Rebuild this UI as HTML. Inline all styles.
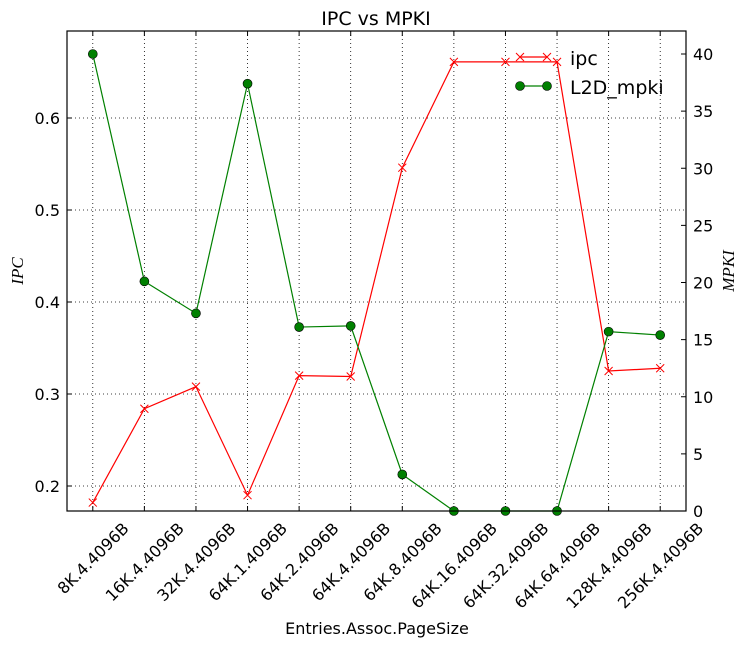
<!DOCTYPE html>
<html><head><meta charset="utf-8"><style>body{margin:0;background:#fff}svg{display:block;font-family:"DejaVu Sans","Liberation Sans",sans-serif}</style></head>
<body>
<svg id="c" width="748" height="647" xmlns="http://www.w3.org/2000/svg"></svg>
<script>
const categories=["8K.4.4096B","16K.4.4096B","32K.4.4096B","64K.1.4096B","64K.2.4096B","64K.4.4096B","64K.8.4096B","64K.16.4096B","64K.32.4096B","64K.64.4096B","128K.4.4096B","256K.4.4096B"];
const ipcValues=[0.182,0.284,0.308,0.190,0.320,0.319,0.546,0.661,0.661,0.661,0.325,0.328];
const mpkiValues=[40.0,20.1,17.3,37.4,16.1,16.2,3.2,0,0,0,15.7,15.4];
const leftTicks=[0.2,0.3,0.4,0.5,0.6];
const rightTicks=[0,5,10,15,20,25,30,35,40];
const L=67,R=686,T=31,B=511;
const yL=v=>486-(v-0.2)*920;
const yR=v=>511-v*11.425;
const x=i=>L+(i+0.5)*(R-L)/categories.length;
const svg=document.getElementById('c');const NS="http://www.w3.org/2000/svg";
function mk(t,a,p){const e=document.createElementNS(NS,t);for(const k in a)e.setAttribute(k,a[k]);(p||svg).appendChild(e);return e;}
const grid=mk('g',{});


categories.forEach((c,i)=>{mk('line',{x1:x(i),x2:x(i),y1:T,y2:B,stroke:'#000','stroke-dasharray':'1,3','stroke-width':0.8},grid);
mk('line',{x1:x(i),x2:x(i),y1:B,y2:B-5,stroke:'#000'},grid);mk('line',{x1:x(i),x2:x(i),y1:T,y2:T+5,stroke:'#000'},grid);
const t=mk('text',{x:x(i),y:0,'font-size':16,'text-anchor':'middle'});


t.textContent=c;
const len=t.getComputedTextLength();
const H=(len+12)/Math.SQRT2;
const cy=521+H/2;
t.setAttribute('y',cy+6);
t.setAttribute('transform',`rotate(-45 ${x(i)} ${cy})`);});
leftTicks.forEach(v=>{mk('line',{x1:L,x2:R,y1:yL(v),y2:yL(v),stroke:'#000','stroke-dasharray':'1,3','stroke-width':0.8},grid);
mk('line',{x1:L,x2:L+5,y1:yL(v),y2:yL(v),stroke:'#000'},grid);
const t=mk('text',{x:L-7,y:yL(v)+6,'font-size':16,'text-anchor':'end'});


t.textContent=v.toFixed(1);});
rightTicks.forEach(v=>{mk('line',{x1:R-5,x2:R,y1:yR(v),y2:yR(v),stroke:'#000'},grid);
const t=mk('text',{x:R+7,y:yR(v)+6,'font-size':16});


t.textContent=v;});
const ipcLine=mk('polyline',{points:ipcValues.map((v,i)=>x(i)+','+yL(v)).join(' '),fill:'none',stroke:'red','stroke-width':1.2});


ipcValues.forEach((v,i)=>{const g=mk('path',{d:`M${x(i)-4},${yL(v)-4}L${x(i)+4},${yL(v)+4}M${x(i)-4},${yL(v)+4}L${x(i)+4},${yL(v)-4}`,stroke:'red','stroke-width':1});

});
const mLine=mk('polyline',{points:mpkiValues.map((v,i)=>x(i)+','+yR(v)).join(' '),fill:'none',stroke:'green','stroke-width':1.2});


mpkiValues.forEach((v,i)=>{const c=mk('circle',{cx:x(i),cy:yR(v),r:4.5,fill:'green',stroke:'#000','stroke-width':0.6});

});
const frame=mk('rect',{x:L,y:T,width:R-L,height:B-T,fill:'none',stroke:'#000','stroke-width':1.2});


const lg=mk('g',{});


mk('line',{x1:520,x2:547,y1:57,y2:57,stroke:'red','stroke-width':1.2},lg);
[520,547].forEach(px=>mk('path',{d:`M${px-4},53L${px+4},61M${px-4},61L${px+4},53`,stroke:'red'},lg));
mk('text',{x:570,y:65,'font-size':19},lg).textContent='ipc';
mk('line',{x1:520,x2:547,y1:86,y2:86,stroke:'green','stroke-width':1.2},lg);
[520,547].forEach(px=>mk('circle',{cx:px,cy:86,r:4.5,fill:'green',stroke:'#000','stroke-width':0.6},lg));
mk('text',{x:570,y:94,'font-size':19},lg).textContent='L2D_mpki';
const ti=mk('text',{x:376,y:25,'font-size':19,'text-anchor':'middle'});


ti.textContent='IPC vs MPKI';
const xl=mk('text',{x:377,y:634,'font-size':16,'text-anchor':'middle'});


xl.textContent='Entries.Assoc.PageSize';
const yl=mk('text',{x:23,y:271,'font-size':17,'text-anchor':'middle','font-style':'italic','font-family':'"Liberation Serif",serif',transform:'rotate(-90 23 271)'});


yl.textContent='IPC';
const yr=mk('text',{x:734,y:271,'font-size':17,'text-anchor':'middle','font-style':'italic','font-family':'"Liberation Serif",serif',transform:'rotate(-90 734 271)'});


yr.textContent='MPKI';
</script>
</body></html>
